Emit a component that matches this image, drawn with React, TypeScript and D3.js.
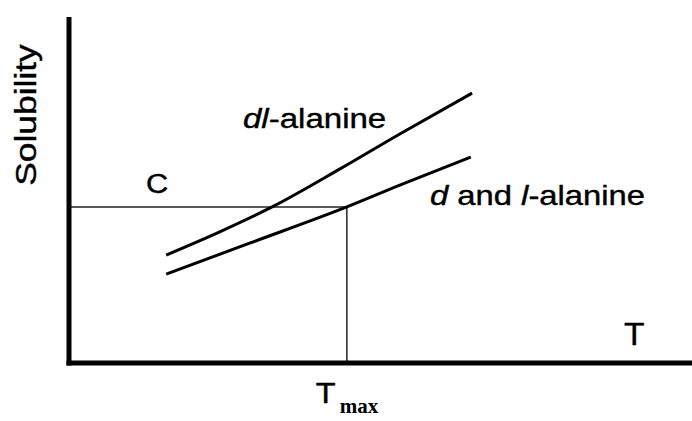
import React from "react";
import * as d3 from "d3";

// Data (arbitrary units, 0–100 on both axes)
const dlX = [15.6, 24.2, 32.6, 43.5, 53.1, 64.7];
const dlY = [31.2, 37.9, 45.1, 56.1, 66.2, 78.0];
const dAndLX = [15.6, 29.1, 44.6, 53.1, 64.5];
const dAndLY = [25.7, 34.7, 45.1, 51.4, 59.5];
const tMax = 44.6;
const cLevel = 45.1;
const seriesLabels = ["dl-alanine", "d and l-alanine"];

const W = 692;
const H = 421;

export default function App() {
  const x = d3.scaleLinear().domain([0, 100]).range([69, 692]);
  const y = d3.scaleLinear().domain([0, 100]).range([363, 17]);

  const line = d3
    .line<[number, number]>()
    .x((d) => x(d[0]))
    .y((d) => y(d[1]))
    .curve(d3.curveMonotoneX);

  const dl = dlX.map((v, i) => [v, dlY[i]] as [number, number]);
  const dAndL = dAndLX.map((v, i) => [v, dAndLY[i]] as [number, number]);

  const font = "'Liberation Sans', Arial, sans-serif";
  const axisX = x(0);
  const axisY = y(0);
  const txt = { fill: "#000", stroke: "#000", strokeWidth: 0.4 };

  return (
    <svg
      width={W}
      height={H}
      style={{ position: "absolute", left: 0, top: 0, background: "#fff" }}
    >
      <rect width={W} height={H} fill="#fff" />
      {/* reference lines */}
      <line
        x1={axisX}
        x2={x(tMax)}
        y1={y(cLevel)}
        y2={y(cLevel)}
        stroke="#222"
        strokeWidth={1.5}
      />
      <line
        x1={x(tMax)}
        x2={x(tMax)}
        y1={y(cLevel)}
        y2={axisY}
        stroke="#222"
        strokeWidth={1.5}
      />
      {/* curves */}
      <path d={line(dl) || ""} fill="none" stroke="#000" strokeWidth={3} />
      <path d={line(dAndL) || ""} fill="none" stroke="#000" strokeWidth={3} />
      {/* axes */}
      <line x1={axisX} x2={axisX} y1={17} y2={axisY + 2.5} stroke="#000" strokeWidth={5} />
      <line x1={axisX - 2.5} x2={W} y1={axisY} y2={axisY} stroke="#000" strokeWidth={5} />

      {/* Y axis label */}
      <g transform="translate(36,115) rotate(-90) scale(1.22,1)">
        <text fontFamily={font} fontSize={29} textAnchor="middle" {...txt}>
          Solubility
        </text>
      </g>

      {/* series labels */}
      <g transform="translate(243,128) scale(1.18,1)">
        <text fontFamily={font} fontSize={28} {...txt}>
          <tspan fontStyle="italic">dl</tspan>
          <tspan>-alanine</tspan>
        </text>
      </g>
      <g transform="translate(430,205) scale(1.17,1)">
        <text fontFamily={font} fontSize={28} {...txt}>
          <tspan fontStyle="italic">d</tspan>
          <tspan> and </tspan>
          <tspan fontStyle="italic">l</tspan>
          <tspan>-alanine</tspan>
        </text>
      </g>

      {/* C label */}
      <g transform={`translate(146,${y(cLevel) - 14}) scale(1.1,1)`}>
        <text fontFamily={font} fontSize={28} {...txt}>C</text>
      </g>

      {/* T axis label */}
      <g transform="translate(624,345) scale(1.05,1)">
        <text fontFamily={font} fontSize={32} {...txt}>T</text>
      </g>

      {/* Tmax label */}
      <g transform={`translate(${x(tMax) - 31},403) scale(1.12,1)`}>
        <text fontFamily={font} fontSize={29} {...txt}>T</text>
      </g>
      <text
        x={x(tMax) - 7}
        y={413}
        fontFamily="'Liberation Serif', 'Times New Roman', serif"
        fontWeight="bold"
        fontSize={21}
        fill="#000"
      >
        max
      </text>
      <title>{seriesLabels.join(", ")}</title>
    </svg>
  );
}
